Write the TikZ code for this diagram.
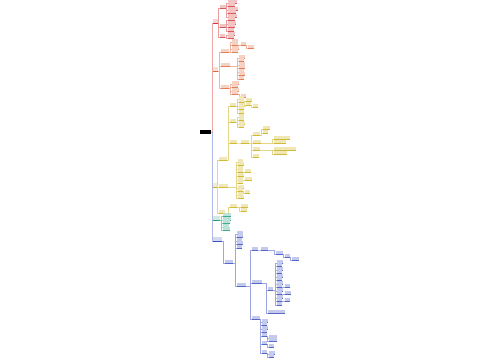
\documentclass[tikz,border=0pt]{standalone}
\definecolor{cR}{HTML}{D63B3B}
\definecolor{cO}{HTML}{DD6A38}
\definecolor{cY}{HTML}{C9AE12}
\definecolor{cG}{HTML}{1F9E7A}
\definecolor{cB}{HTML}{3A4DC0}
\tikzset{
  leaf/.style={rectangle, inner sep=0pt, minimum height=3pt, anchor=south west, draw=none},
  conn/.style={line width=0.3pt},
}
\newcommand\mn[6]{%
  \node[leaf, fill=#6!30, minimum width=#5pt] (#1) at (#3,#4) {};
  \draw[conn, #6!50] (#2.south east) -| ([xshift=-1.5pt]#1.south west) -- (#1.south west);
  \draw[#6!85, line width=0.35pt] (#1.south west) -- (#1.south east);
}
\newcommand\lone[5]{% name, x, y, w, color
  \node[leaf, fill=#5!22, minimum width=#4pt, minimum height=3.5pt] (#1) at (#2,#3) {};
  \draw[#5, line width=0.4pt] (#1.south west) -- (#1.south east);
}
\begin{document}
\begin{tikzpicture}[x=1pt,y=-1pt]
\fill[white] (0,0) rectangle (500,360);
\useasboundingbox (0,0) rectangle (500,360);
% root
\node[rectangle, fill=black, inner sep=0pt, minimum width=11pt, minimum height=4pt, anchor=south west] (root) at (200,134) {};
% level 1
\lone{A}{213}{23}{5}{cR}
\lone{B}{213}{71}{5}{cO}
\lone{C}{213}{187}{5}{cY}
\lone{D}{213}{220}{7}{cG}
\lone{E}{213}{241}{9}{cB}
\draw[conn, cR!45] (root.east) -| ([xshift=-1pt]A.south west) -- (A.south west);
\draw[conn, cR!45] (root.east) -| ([xshift=-1pt]B.south west) -- (B.south west);
\draw[conn, cB!40] (root.east) -| ([xshift=-1pt]C.south west) -- (C.south west);
\draw[conn, cB!40] (root.east) -| ([xshift=-1pt]D.south west) -- (D.south west);
\draw[conn, cB!40] (root.east) -| ([xshift=-1pt]E.south west) -- (E.south west);
% ---------- red branch A
\mn{a1}{A}{220}{8}{6}{cR}
\mn{a2}{A}{220}{27}{6}{cR}
\mn{a3}{A}{220}{37}{5}{cR}
\foreach \yy/\ww [count=\i] in {3/9,6.5/7,10/10,13.5/8,17/9} {\mn{a1\i}{a1}{228}{\yy}{\ww}{cR}}
\foreach \yy/\ww [count=\i] in {20.5/7,24/8,27.5/7,31/6} {\mn{a2\i}{a2}{228}{\yy}{\ww}{cR}}
\foreach \yy/\ww [count=\i] in {35/7,38.5/6} {\mn{a3\i}{a3}{228}{\yy}{\ww}{cR}}
% ---------- orange branch B
\mn{b1}{B}{221}{52}{8}{cO}
\mn{b2}{B}{221}{66}{9}{cO}
\mn{b3}{B}{221}{88}{8}{cO}
\foreach \yy/\ww [count=\i] in {42/6,45.5/6,49/7,52.5/6} {\mn{b1\i}{b1}{232}{\yy}{\ww}{cO}}
\mn{b1x}{b12}{241}{45.5}{5}{cO}
\mn{b1y}{b1x}{248}{48}{6}{cO}
\foreach \yy/\ww [count=\i] in {58/6,61.5/5,65/6,68.5/6,72/5,75.5/6,79/5} {\mn{b2\i}{b2}{239}{\yy}{\ww}{cO}}
\foreach \yy/\ww [count=\i] in {84/7,87.5/6,91/7,94.5/6} {\mn{b3\i}{b3}{232}{\yy}{\ww}{cO}}
\mn{b3x}{b34}{241}{97.5}{5}{cO}
% ---------- yellow branch C
\mn{c1}{C}{219}{160}{8}{cY}
\mn{c2}{C}{219}{187}{9}{cY}
\mn{c3}{C}{219}{213}{6}{cY}
\mn{c1a}{c1}{230}{106}{6}{cY}
\mn{c1b}{c1}{230}{122}{6}{cY}
\mn{c1c}{c1}{230}{143}{7}{cY}
\foreach \yy/\ww [count=\i] in {99/5,102.5/5,106/6,109.5/5,113/5} {\mn{ca\i}{c1a}{239}{\yy}{\ww}{cY}}
\mn{cax}{ca2}{246}{101.5}{6}{cY}
\mn{cay}{ca3}{246}{105.5}{5}{cY}
\mn{caz}{cay}{253}{107}{5}{cY}
\foreach \yy/\ww [count=\i] in {117/5,120.5/5,124/6,127.5/5} {\mn{cb\i}{c1b}{239}{\yy}{\ww}{cY}}
\mn{cc}{c1c}{241}{143}{8}{cY}
\mn{cc1}{cc}{253}{135}{7}{cY}
\mn{cc2}{cc}{253}{143}{8}{cY}
\mn{cc3}{cc}{253}{150}{7}{cY}
\mn{cc4}{cc}{253}{157}{6}{cY}
\mn{cc1a}{cc1}{263}{129.5}{7}{cY}
\mn{cc1b}{cc1}{263}{133}{5}{cY}
\mn{cc2a}{cc2}{274}{139.5}{16}{cY}
\mn{cc2b}{cc2}{274}{143}{12}{cY}
\mn{cc3a}{cc3}{274}{150}{22}{cY}
\mn{cc3b}{cc3}{274}{154}{13}{cY}
\foreach \yy/\ww [count=\i] in {162/5,165.5/6,169/5,172.5/5,176/6,180/5,183.5/5,188/6,191.5/5,195/5,198.5/6} {\mn{cd\i}{c2}{238}{\yy}{\ww}{cY}}
\mn{cdx}{cd4}{245}{172.5}{6}{cY}
\mn{cdy}{cd6}{245}{180.5}{7}{cY}
\mn{cdz}{cd9}{245}{193}{5}{cY}
\mn{ce}{c3}{230}{207.5}{7}{cY}
\mn{ce1}{ce}{241}{207}{7}{cY}
\mn{ce2}{ce}{241}{211}{6}{cY}
% ---------- green branch D
\foreach \yy/\ww [count=\i] in {216.5/8,220/8,223.5/7,227/6,230.5/7} {\mn{d\i}{D}{223}{\yy}{\ww}{cG}}
% ---------- blue branch E
\mn{e1}{E}{225}{263}{8}{cB}
\foreach \yy/\ww [count=\i] in {234/6,237.5/6,241/5,244.5/6,248/5} {\mn{ea\i}{e1}{237}{\yy}{\ww}{cB}}
\mn{eb}{e1}{237}{286}{9}{cB}
\mn{eb1}{eb}{252}{250}{6}{cB}
\mn{eb1a}{eb1}{261}{250}{7}{cB}
\mn{eb1b}{eb1a}{276}{254}{7}{cB}
\mn{eb1c}{eb1b}{285}{257}{5}{cB}
\mn{eb1d}{eb1c}{292}{260}{7}{cB}
\mn{eb2}{eb}{252}{283}{10}{cB}
\mn{eb2a}{eb2}{268}{290}{5}{cB}
\mn{eb2b}{eb2}{268}{313}{17}{cB}
\foreach \yy/\ww [count=\i] in {263/6,266.5/5,270/6,273.5/5,277/6,280.5/5,284/6,287.5/5,291/6,294.5/5,298/6,301.5/5,305/5} {\mn{ec\i}{eb2a}{277}{\yy}{\ww}{cB}}
\mn{ecx}{ec8}{285}{287.5}{5}{cB}
\mn{ecy}{ec10}{285}{294.5}{6}{cB}
\mn{ecz}{ec12}{285}{301.5}{5}{cB}
\mn{eb3}{eb}{252}{319}{8}{cB}
\foreach \yy/\ww [count=\i] in {322/6,325.5/5,329/6,332.5/5,336/5,344/5,353/5} {\mn{ed\i}{eb3}{262}{\yy}{\ww}{cB}}
\mn{ed5a}{ed5}{269}{338}{8}{cB}
\mn{ed5b}{ed5}{269}{341.5}{8}{cB}
\mn{ed6a}{ed6}{269}{347}{5}{cB}
\mn{ed7a}{ed7}{269}{354}{6}{cB}
\mn{ed7b}{ed7}{269}{357.5}{5}{cB}
\end{tikzpicture}
\end{document}
